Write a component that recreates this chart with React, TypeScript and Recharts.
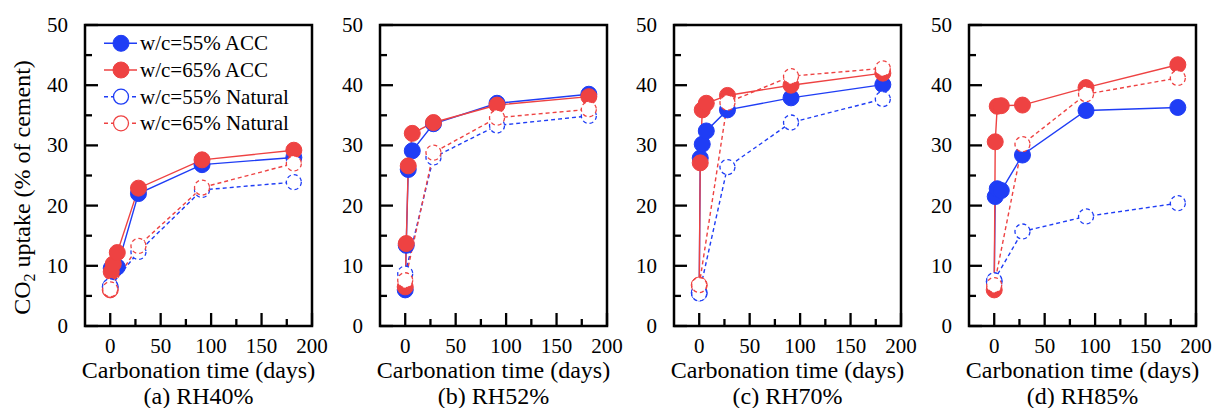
import { LineChart, Line, XAxis, YAxis, ReferenceArea } from 'recharts';

const ACC_DAYS = [0, 1, 3, 7, 28, 91, 182];
const NATURAL_DAYS = [0, 28, 91, 182];
const X_TICKS = [-25, 0, 25, 50, 75, 100, 125, 150, 175, 200];
const Y_TICKS = [0, 5, 10, 15, 20, 25, 30, 35, 40, 45, 50];
const CAPTIONS = ['(a) RH40%', '(b) RH52%', '(c) RH70%', '(d) RH85%'];
const SERIES_NAMES = ['w/c=55% ACC', 'w/c=65% ACC', 'w/c=55% Natural', 'w/c=65% Natural'];

// RH40%
const rh40Acc55 = [6.5, 9.6, 10.0, 9.8, 22.0, 26.8, 28.0];
const rh40Acc65 = [6.0, 9.0, 10.3, 12.2, 22.9, 27.6, 29.2];
const rh40Nat55 = [6.6, 12.3, 22.6, 23.9];
const rh40Nat65 = [6.1, 13.3, 23.0, 27.0];
// RH52%
const rh52Acc55 = [6.0, 13.4, 26.0, 29.1, 33.6, 37.0, 38.5];
const rh52Acc65 = [6.5, 13.7, 26.6, 32.0, 33.8, 36.7, 38.1];
const rh52Nat55 = [8.7, 28.0, 33.3, 34.9];
const rh52Nat65 = [7.6, 28.8, 34.6, 36.0];
// RH70%
const rh70Acc55 = [5.5, 27.9, 30.2, 32.4, 35.9, 37.9, 40.1];
const rh70Acc65 = [6.8, 27.1, 35.9, 37.0, 38.3, 40.0, 42.0];
const rh70Nat55 = [5.4, 26.4, 33.8, 37.7];
const rh70Nat65 = [6.8, 37.1, 41.5, 42.8];
// RH85%
const rh85Acc55 = [7.4, 21.5, 22.8, 22.5, 28.4, 35.8, 36.3];
const rh85Acc65 = [6.0, 30.6, 36.5, 36.6, 36.7, 39.6, 43.4];
const rh85Nat55 = [7.6, 15.7, 18.2, 20.4];
const rh85Nat65 = [6.8, 30.2, 38.5, 41.2];

const BLUE = '#1f3df5';
const RED = '#ee4242';
const FONT = 'Liberation Serif, Times New Roman, Times, DejaVu Serif, serif';

const toPoints = (days: number[], vals: number[]) => days.map((x, i) => ({ x, y: vals[i] }));

const styles = [
  { color: BLUE, dashed: false, filled: true },
  { color: RED, dashed: false, filled: true },
  { color: BLUE, dashed: true, filled: false },
  { color: RED, dashed: true, filled: false },
];

const panels = [
  { left: 0, axisW: 85, values: [rh40Acc55, rh40Acc65, rh40Nat55, rh40Nat65] },
  { left: 320, axisW: 60, values: [rh52Acc55, rh52Acc65, rh52Nat55, rh52Nat65] },
  { left: 614, axisW: 60, values: [rh70Acc55, rh70Acc65, rh70Nat55, rh70Nat65] },
  { left: 909, axisW: 60, values: [rh85Acc55, rh85Acc65, rh85Nat55, rh85Nat65] },
];

const textStyle = { fontFamily: FONT };

const XTick = ({ x, y, payload }: any) => {
  const v = payload.value;
  if (v === -25) return <g />;
  const major = v % 50 === 0;
  return (
    <g>
      <line x1={x} x2={x} y1={y} y2={y - (major ? 13 : 7)} stroke="#000" strokeWidth={2.3} />
      {major && (
        <text x={x} y={y + 27} textAnchor="middle" fontSize={21} style={textStyle} fill="#000">
          {v}
        </text>
      )}
    </g>
  );
};

const YTick = ({ x, y, payload }: any) => {
  const v = payload.value;
  const major = v % 10 === 0;
  return (
    <g>
      <line x1={x} x2={x + (major ? 13 : 7)} y1={y} y2={y} stroke="#000" strokeWidth={2.3} />
      {major && (
        <text x={x - 17} y={y + 7} textAnchor="end" fontSize={21} style={textStyle} fill="#000">
          {v}
        </text>
      )}
    </g>
  );
};

const xTitles = (caption: string) => (props: any) => {
  const { x, y, width, height } = props.viewBox;
  const cx = x + width / 2;
  return (
    <g fontSize={24} fill="#000" style={textStyle}>
      <text x={cx} y={y + height - 30} textAnchor="middle" style={textStyle}>
        Carbonation time (days)
      </text>
      <text x={cx} y={y + height - 4} textAnchor="middle" style={textStyle}>
        {caption}
      </text>
    </g>
  );
};

const yTitle = (props: any) => {
  const { x, y, height } = props.viewBox;
  const bx = x + 30;
  const cy = y + height / 2 + 12;
  return (
    <text
      x={bx}
      y={cy}
      transform={`rotate(-90, ${bx}, ${cy})`}
      textAnchor="middle"
      fontSize={24}
      fill="#000"
      style={textStyle}
    >
      CO
      <tspan fontSize={16} dy={5}>2</tspan>
      <tspan dy={-5}> uptake (% of cement)</tspan>
    </text>
  );
};

function Panel({ idx }: { idx: number }) {
  const p = panels[idx];
  const width = p.axisW + 227 + 17;
  return (
    <div style={{ position: 'absolute', left: p.left, top: 0 }}>
      <LineChart width={width} height={408} margin={{ top: 25, right: 17, bottom: 0, left: 0 }}>
        <XAxis
          type="number"
          dataKey="x"
          domain={[-25, 200]}
          ticks={X_TICKS}
          interval={0}
          height={82}
          axisLine={false}
          tickLine={false}
          tickSize={0}
          tickMargin={0}
          tick={<XTick />}
          label={{ content: xTitles(CAPTIONS[idx]) }}
        />
        <YAxis
          type="number"
          domain={[0, 50]}
          ticks={Y_TICKS}
          interval={0}
          width={p.axisW}
          axisLine={false}
          tickLine={false}
          tickSize={0}
          tickMargin={0}
          tick={<YTick />}
          label={idx === 0 ? { content: yTitle } : undefined}
        />
        <ReferenceArea
          x1={-25}
          x2={200}
          y1={0}
          y2={50}
          fill="none"
          stroke="#000"
          strokeWidth={2.5}
          ifOverflow="visible"
        />
        {styles.map((s, i) => (
          <Line
            key={SERIES_NAMES[i]}
            name={SERIES_NAMES[i]}
            data={toPoints(i < 2 ? ACC_DAYS : NATURAL_DAYS, p.values[i])}
            dataKey="y"
            stroke={s.color}
            strokeWidth={1.4}
            strokeDasharray={s.dashed ? '4 3' : undefined}
            dot={
              s.filled
                ? { r: 8, fill: s.color, stroke: s.color, strokeWidth: 1 }
                : { r: 7.5, fill: '#fff', stroke: s.color, strokeWidth: 1.3 }
            }
            activeDot={false}
            isAnimationActive={false}
          />
        ))}
      </LineChart>
    </div>
  );
}

function LegendBox() {
  const rows = [43.3, 70, 96.7, 123.3];
  return (
    <svg
      width={200}
      height={140}
      style={{ position: 'absolute', left: 100, top: 20 }}
      viewBox="100 20 200 140"
    >
      {styles.map((s, i) => (
        <g key={i}>
          <line
            x1={104}
            x2={137}
            y1={rows[i]}
            y2={rows[i]}
            stroke={s.color}
            strokeWidth={1.4}
            strokeDasharray={s.dashed ? '4 3' : undefined}
          />
          <circle
            cx={121}
            cy={rows[i]}
            r={s.filled ? 8 : 7.5}
            fill={s.filled ? s.color : '#fff'}
            stroke={s.color}
            strokeWidth={s.filled ? 1 : 1.3}
          />
          <text x={140} y={rows[i] + 7} fontSize={21} fill="#000" style={textStyle}>
            {SERIES_NAMES[i]}
          </text>
        </g>
      ))}
    </svg>
  );
}

export default function App() {
  return (
    <div
      style={{
        position: 'absolute',
        left: 0,
        top: 0,
        width: 1213,
        height: 408,
        overflow: 'hidden',
        background: '#fff',
        fontFamily: FONT,
      }}
    >
      {panels.map((_, i) => (
        <Panel key={i} idx={i} />
      ))}
      <LegendBox />
    </div>
  );
}
